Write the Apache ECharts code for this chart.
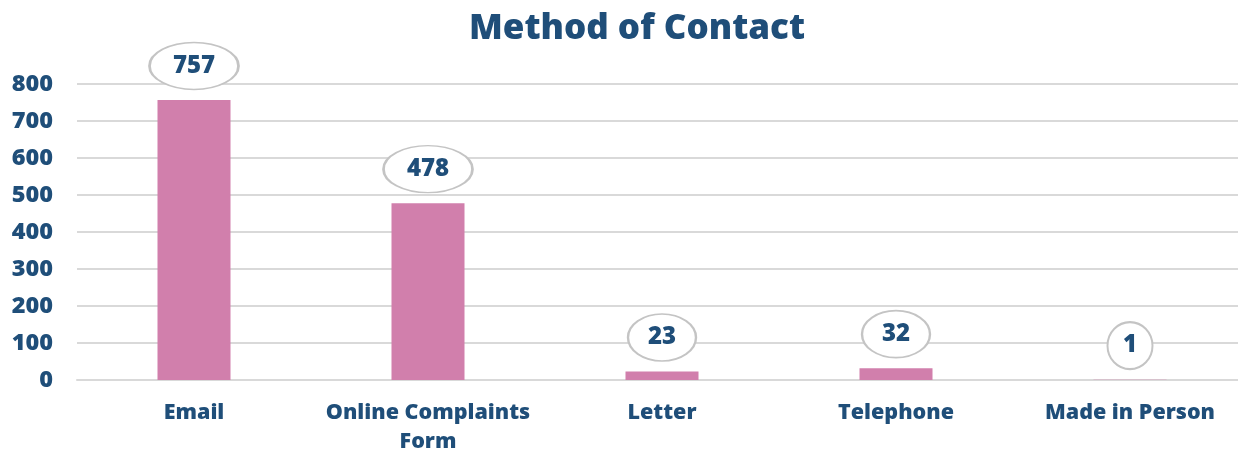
<!DOCTYPE html>
<html>
<head>
<meta charset="utf-8">
<script src="https://cdn.jsdelivr.net/npm/echarts@6/dist/echarts.min.js"></script>
<style>
html,body{margin:0;padding:0;background:#fff;}
#chart{width:1238px;height:450px;}
</style>
</head>
<body>
<div id="chart"></div>
<script>
// categories and values
var categories = ['Email', 'Online Complaints\nForm', 'Letter', 'Telephone', 'Made in Person'];
var contacts = [757, 478, 23, 32, 1];
var yTicks = [0, 100, 200, 300, 400, 500, 600, 700, 800];

var navy = '#1F4E79';
var font = '"Open Sans", Lato, sans-serif';

var myChart = echarts.init(document.getElementById('chart'));
var option = {
    backgroundColor: '#fff',
    animation: false,
    title: {
        text: 'Method of Contact',
        left: 632,
        textAlign: 'center',
        top: 7,
        textStyle: {color: navy, fontSize: 35, fontWeight: 800, fontFamily: font}
    },
    grid: {left: 77, top: 84, bottom: 70, width: 1170, outerBoundsMode: 'none', containLabel: false},
    xAxis: {
        type: 'category',
        data: categories,
        axisTick: {show: false},
        axisLine: {lineStyle: {color: '#d9d9d9', width: 2}},
        axisLabel: {
            color: navy, fontSize: 21.5, fontWeight: 800, fontFamily: font,
            margin: 18, lineHeight: 29, interval: 0
        }
    },
    yAxis: {
        type: 'value',
        min: yTicks[0],
        max: yTicks[yTicks.length - 1],
        interval: 100,
        axisLine: {show: false},
        axisTick: {show: false},
        splitLine: {lineStyle: {color: '#d9d9d9', width: 2}},
        axisLabel: {color: navy, fontSize: 23.5, fontWeight: 800, fontFamily: font, margin: 24}
    },
    series: [
        {
            type: 'bar',
            data: contacts,
            barWidth: 73,
            itemStyle: {color: '#D17FAC'}
        },
        {
            // ellipse callouts above each bar
            type: 'scatter',
            data: contacts,
            clip: false,
            symbol: 'circle',
            symbolSize: function (v) {
                var n = String(v).length;
                return [n >= 3 ? 89 : (n == 2 ? 68 : 45), 47];
            },
            symbolOffset: [0, -34],
            itemStyle: {color: '#fff', borderColor: '#c4c4c4', borderWidth: 2, opacity: 1},
            label: {
                show: true,
                position: 'inside',
                color: navy,
                fontSize: 24,
                fontWeight: 800,
                fontFamily: font
            },
            z: 5
        }
    ]
};
myChart.setOption(option);
</script>
</body>
</html>
